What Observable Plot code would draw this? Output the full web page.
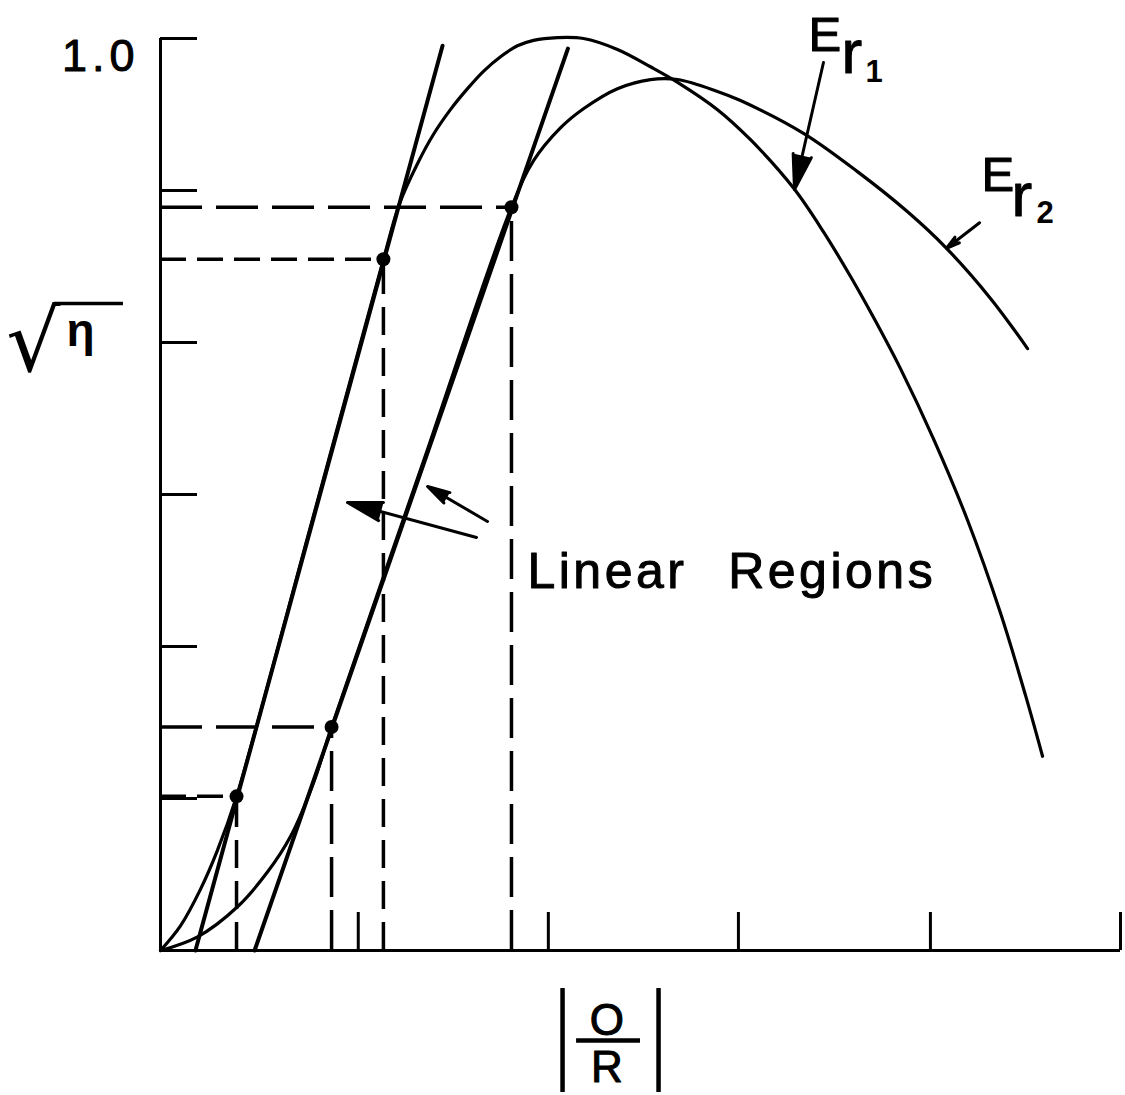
<!DOCTYPE html>
<html>
<head>
<meta charset="utf-8">
<script src="https://cdn.jsdelivr.net/npm/d3@7"></script>
<script src="https://cdn.jsdelivr.net/npm/@observablehq/plot@0.6"></script>
<style>
  html, body { margin: 0; padding: 0; background: #fff; }
</style>
</head>
<body>
<div id="chart"></div>
<script>
// E_r1: |O/R| and sqrt(eta) along the taller efficiency curve
const erOneX = [0, 0.104, 0.208, 0.297, 0.396, 0.779, 1.161, 1.245, 1.339, 1.422, 1.51, 1.599, 1.682, 1.771, 1.859, 1.943, 2.068, 2.203, 2.38, 2.552, 2.693, 2.901, 3.073, 3.297, 3.453, 3.594, 3.714, 3.854, 4.026, 4.203, 4.375, 4.505, 4.594];
const erOneY = [0, 0.027, 0.067, 0.11, 0.169, 0.463, 0.758, 0.819, 0.863, 0.895, 0.922, 0.945, 0.964, 0.98, 0.992, 0.998, 1.001, 1.0, 0.988, 0.969, 0.952, 0.922, 0.889, 0.836, 0.788, 0.739, 0.694, 0.638, 0.561, 0.472, 0.37, 0.28, 0.213];

// E_r2: the flatter curve with the lower, later peak
const erTwoX = [0, 0.193, 0.401, 0.557, 0.677, 0.797, 0.891, 1.359, 1.828, 1.943, 2.083, 2.203, 2.38, 2.552, 2.693, 2.901, 3.021, 3.349, 3.63, 3.891, 4.089, 4.323, 4.516];
const erTwoY = [0, 0.015, 0.048, 0.086, 0.125, 0.184, 0.245, 0.53, 0.815, 0.866, 0.902, 0.923, 0.945, 0.955, 0.955, 0.942, 0.932, 0.896, 0.854, 0.81, 0.771, 0.715, 0.66];

// straight lines drawn along each linear region
const tangentOneX = [0.182, 1.469];
const tangentOneY = [0, 0.992];
const tangentTwoX = [0.49, 2.122];
const tangentTwoY = [0, 0.989];

// ends of the linear regions
const edgeOneX = [0.396, 1.161];
const edgeOneY = [0.169, 0.758];
const edgeTwoX = [0.891, 1.828];
const edgeTwoY = [0.245, 0.815];

// axis ticks
const yTicks = [1 / 6, 2 / 6, 3 / 6, 4 / 6, 5 / 6, 1];
const yTickLabels = ["1.0"];
const yTickLabelAt = [1];
const xTicks = [1.03, 2.02, 3.01, 4.01, 5];

// pointer arrows: E_r1, E_r2 and the two "Linear Regions" pointers
const arrowX1 = [3.453, 4.266, 1.646, 1.703];
const arrowY1 = [0.9737, 0.798, 0.4529, 0.4704];
const arrowX2 = [3.302, 4.094, 0.974, 1.391];
const arrowY2 = [0.8344, 0.770, 0.4912, 0.5088];

// curve names E_{r_1}, E_{r_2}
const erBase = ["E", "E"];
const erBaseX = [3.375, 4.276];
const erBaseY = [0.9868, 0.8333];
const erSub = ["r", "r"];
const erSubX = [3.547, 4.432];
const erSubY = [0.9627, 0.8059];
const erIndex = ["1", "2"];
const erIndexX = [3.672, 4.5625];
const erIndexY = [0.9518, 0.7982];

// "Linear Regions" note
const noteText = ["Linear\u00a0\u00a0Regions"];
const noteX = [1.911];
const noteY = [0.397];

// x label |O/R|
const fracTop = ["O"];
const fracBottom = ["R"];
const fracX = [2.325];
const fracTopY = [-0.0932];
const fracBottomY = [-0.1447];
const fracBarX = [2.167, 2.5];
const fracBarY = [-0.0987];
const absBarX = [2.094, 2.594];
const absBarY = [-0.0417, -0.1557];

// y label sqrt(eta)
const rootSign = ["\u221a"];
const rootX = [-0.8036];
const rootY = [0.6356];
const etaText = ["\u03b7"];
const etaX = [-0.4896];
const etaY = [0.6623];
const vinculumX = [-0.552, -0.193];
const vinculumY = [0.7094];

const zip = (xs, ys) => xs.map((x, i) => ({x, y: ys[i]}));
const erOne = zip(erOneX, erOneY);
const erTwo = zip(erTwoX, erTwoY);
const tangentOne = zip(tangentOneX, tangentOneY);
const tangentTwo = zip(tangentTwoX, tangentTwoY);
const edgeOne = zip(edgeOneX, edgeOneY);
const edgeTwo = zip(edgeTwoX, edgeTwoY);
const arrows = arrowX1.map((x1, i) => ({x1, y1: arrowY1[i], x2: arrowX2[i], y2: arrowY2[i]}));
const labelsAt = (texts, xs, ys) => texts.map((t, i) => ({t, x: xs[i], y: ys[i]}));

const ink = "#000";
// lettering is a little heavier than the regular face
const letter = {stroke: ink, strokeWidth: 1, fill: ink};

const chart = Plot.plot({
  width: 1125,
  height: 1095,
  marginLeft: 160,
  marginRight: 5,
  marginTop: 38,
  marginBottom: 145,
  style: {fontFamily: "'Liberation Sans', Arial, sans-serif", background: "#fff", color: ink},
  x: {domain: [0, 5], label: null},
  y: {domain: [0, 1], label: null},
  marks: [
    // frame axes
    Plot.ruleX([0], {y1: 0, y2: 1, stroke: ink, strokeWidth: 3}),
    Plot.ruleY([0], {x1: 0, x2: 5, stroke: ink, strokeWidth: 3}),
    Plot.axisY({ticks: yTicks, tickSize: -37, tickFormat: () => "", strokeWidth: 3, label: null}),
    Plot.axisX({ticks: xTicks, tickSize: -38, tickFormat: () => "", strokeWidth: 3, label: null}),
    Plot.text(labelsAt(yTickLabels, yTickLabelAt.map(() => 0), yTickLabelAt), {
      x: "x", y: "y", text: "t", textAnchor: "end", lineAnchor: "top", dx: -21, dy: 1,
      fontSize: 45, ariaDescription: "tick-label", ...letter
    }),

    // dashed guides from the linear-region ends to both axes
    Plot.ruleY(edgeOne, {y: "y", x1: 0, x2: "x", stroke: ink, strokeWidth: 3.5, strokeDasharray: "26,11"}),
    Plot.ruleX(edgeOne, {x: "x", y1: 0, y2: "y", stroke: ink, strokeWidth: 3.5, strokeDasharray: "28,13"}),
    Plot.ruleY(edgeTwo, {y: "y", x1: 0, x2: "x", stroke: ink, strokeWidth: 3.5, strokeDasharray: "42,14"}),
    Plot.ruleX(edgeTwo, {x: "x", y1: 0, y2: "y", stroke: ink, strokeWidth: 3.5, strokeDasharray: "40,13"}),

    // tangent lines
    Plot.line(tangentOne, {x: "x", y: "y", stroke: ink, strokeWidth: 4}),
    Plot.line(tangentTwo, {x: "x", y: "y", stroke: ink, strokeWidth: 4}),

    // efficiency curves
    Plot.line(erOne, {x: "x", y: "y", stroke: ink, strokeWidth: 3.2, curve: "catmull-rom"}),
    Plot.line(erTwo, {x: "x", y: "y", stroke: ink, strokeWidth: 3.2, curve: "catmull-rom"}),

    // linear-region end points
    Plot.dot(edgeOne.concat(edgeTwo), {x: "x", y: "y", r: 7, fill: ink, stroke: null}),

    // pointers with solid heads
    Plot.arrow(arrows, {x1: "x1", y1: "y1", x2: "x2", y2: "y2", stroke: ink, fill: ink, strokeWidth: 3, headLength: 18, headAngle: 30}),

    // curve names
    Plot.text(labelsAt(erBase, erBaseX, erBaseY), {x: "x", y: "y", text: "t", textAnchor: "start", lineAnchor: "bottom", fontSize: 49, ...letter}),
    Plot.text(labelsAt(erSub, erSubX, erSubY), {x: "x", y: "y", text: "t", textAnchor: "start", lineAnchor: "bottom", fontSize: 62, ...letter}),
    Plot.text(labelsAt(erIndex, erIndexX, erIndexY), {x: "x", y: "y", text: "t", textAnchor: "start", lineAnchor: "bottom", fontSize: 31, fontWeight: "bold"}),

    // note
    Plot.text(labelsAt(noteText, noteX, noteY), {
      x: "x", y: "y", text: "t", textAnchor: "start", lineAnchor: "bottom", fontSize: 50,
      ariaDescription: "note", ...letter
    }),

    // |O/R|
    Plot.text(labelsAt(fracTop, fracX, fracTopY), {x: "x", y: "y", text: "t", lineAnchor: "bottom", fontSize: 44, ...letter}),
    Plot.text(labelsAt(fracBottom, fracX, fracBottomY), {x: "x", y: "y", text: "t", lineAnchor: "bottom", fontSize: 44, ...letter}),
    Plot.ruleY(fracBarY, {y: d => d, x1: fracBarX[0], x2: fracBarX[1], stroke: ink, strokeWidth: 4.5}),
    Plot.ruleX(absBarX, {x: d => d, y1: absBarY[0], y2: absBarY[1], stroke: ink, strokeWidth: 4.5}),

    // sqrt(eta)
    Plot.text(labelsAt(rootSign, rootX, rootY), {
      x: "x", y: "y", text: "t", textAnchor: "start", lineAnchor: "bottom", fontSize: 85,
      fontFamily: "DejaVu Sans", ariaDescription: "root"
    }),
    Plot.text(labelsAt(etaText, etaX, etaY), {x: "x", y: "y", text: "t", textAnchor: "start", lineAnchor: "bottom", fontSize: 46, fontWeight: "bold"}),
    Plot.ruleY(vinculumY, {y: d => d, x1: vinculumX[0], x2: vinculumX[1], stroke: ink, strokeWidth: 3.5})
  ]
});

// wide tracking as in the lettering of the figure
d3.select(chart).selectAll('[aria-description="note"] text').style("letter-spacing", "3.5px").style("word-spacing", "3px");
d3.select(chart).selectAll('[aria-description="tick-label"] text').style("letter-spacing", "5px");

document.getElementById("chart").appendChild(chart);
</script>
</body>
</html>
